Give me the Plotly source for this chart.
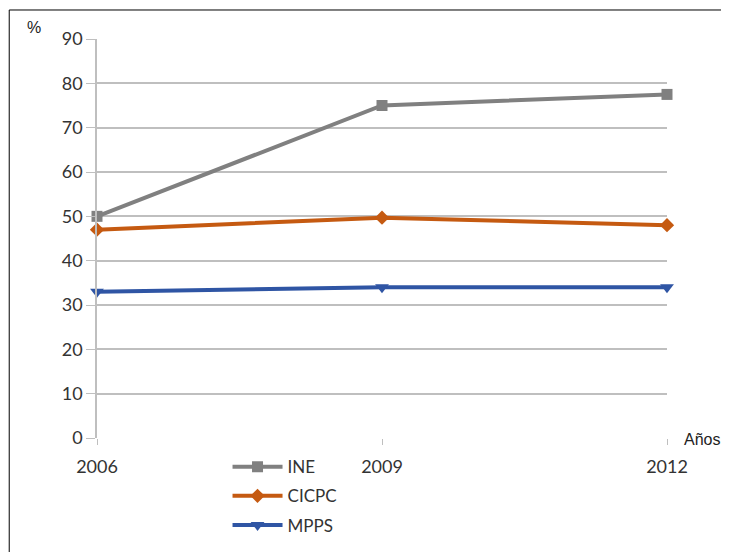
import plotly.graph_objects as go

years = [2006, 2009, 2012]
ine = [50, 75, 77.5]
cicpc = [47, 49.7, 48]
mpps = [33, 34, 34]

series = [
    ("INE", ine, "#808080", "square", 11),
    ("CICPC", cicpc, "#C55A11", "diamond", 11),
    ("MPPS", mpps, "#2F55A4", "triangle-down", 12),
]

fig = go.Figure()
for name, vals, col, sym, sz in series:
    fig.add_trace(go.Scatter(
        x=years, y=vals, name=name, mode="lines+markers",
        legendgroup=name,
        line=dict(color=col, width=4),
        marker=dict(symbol=sym, size=sz, color=col),
        cliponaxis=False,
    ))

font_ticks = dict(family="Lato, Open Sans, sans-serif", size=18, color="#333333")

fig.update_layout(
    width=729, height=552,
    margin=dict(l=89, r=70, t=31, b=122),
    paper_bgcolor="white", plot_bgcolor="white",
    showlegend=True,
    legend=dict(x=0.229, y=-0.028, xanchor="left", yanchor="top",
                font=dict(family="Lato, Open Sans, sans-serif", size=17, color="#333333"),
                tracegroupgap=4, itemwidth=50, bgcolor="rgba(0,0,0,0)"),
    xaxis=dict(range=[2006, 2012], tickvals=years, ticktext=[str(y) for y in years],
               showgrid=False, zeroline=False, showline=False,
               ticks="outside", ticklen=6, tickcolor="#BFBFBF",
               ticklabelstandoff=6,
               tickfont=font_ticks),
    yaxis=dict(range=[0, 90], dtick=10, showgrid=True, gridcolor="#BFBFBF", gridwidth=1.5,
               zeroline=False, showline=True, linecolor="#BFBFBF", linewidth=1.5,
               ticks="outside", ticklen=9, tickcolor="#BFBFBF",
               tickfont=font_ticks),
    shapes=[dict(type="rect", xref="paper", yref="paper",
                 x0=-0.154, x1=1.14, y0=-0.3, y1=1.0727,
                 line=dict(color="black", width=1))],
    annotations=[
        dict(text="%", xref="paper", yref="paper", x=-0.1097, y=1.028,
             xanchor="center", yanchor="middle", showarrow=False,
             font=dict(family="Liberation Sans, Arial", size=16, color="#222222")),
        dict(text="Años", xref="paper", yref="paper", x=1.062, y=-0.005,
             xanchor="center", yanchor="middle", showarrow=False,
             font=dict(family="Liberation Sans, Arial", size=16, color="#222222")),
    ],
)

fig.write_html("out.html")
